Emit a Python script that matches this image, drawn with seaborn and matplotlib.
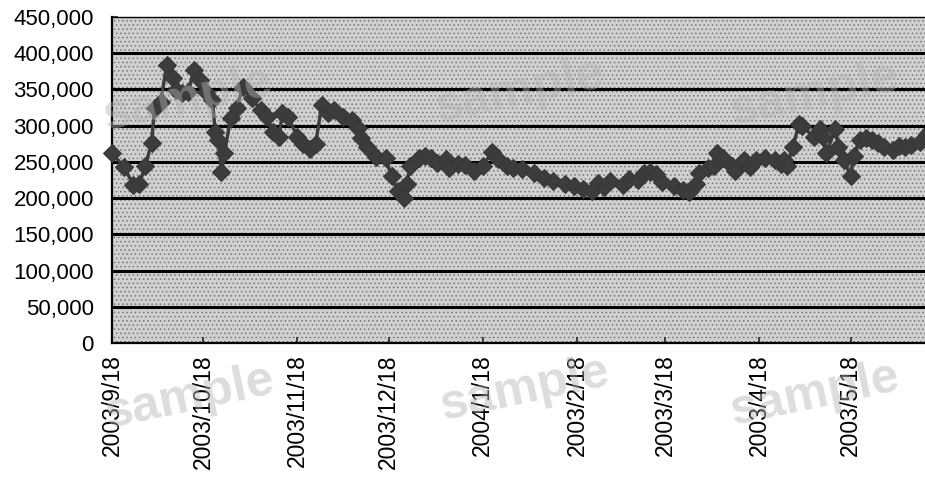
import numpy as np
import pandas as pd
import matplotlib
matplotlib.use("Agg")
import matplotlib.pyplot as plt
import seaborn as sns

# ---- data ----
start_date = "2003-09-18"
day_offsets = [0, 4, 7, 9, 11, 13, 14, 16, 18, 20, 21, 23, 25, 27, 29, 31, 33, 34, 35, 36,
               37, 39, 41, 43, 46, 49, 51, 53, 55, 56, 58, 61, 63, 65, 67, 69, 71, 73, 76, 79,
               81, 82, 84, 87, 90, 92, 94, 96, 97, 98, 101, 103, 105, 107, 110, 111, 114, 116, 119, 122,
               125, 127, 130, 132, 135, 139, 142, 145, 149, 152, 155, 158, 160, 162, 164, 168, 170, 173, 175, 177,
               179, 181, 185, 188, 190, 192, 193, 196, 198, 199, 201, 204, 205, 208, 210, 212, 215, 218, 220, 221,
               222, 224, 226, 227, 231, 233, 234, 235, 238, 239, 241, 243, 244, 246, 248, 250, 252, 254, 257, 259,
               261, 263, 266, 268]
values = [262, 243, 218, 220, 245, 276, 324, 332, 384, 366, 349, 345, 346, 377, 363, 346, 335, 291, 280, 236,
          262, 310, 324, 353, 338, 321, 312, 291, 284, 317, 312, 284, 275, 268, 275, 328, 317, 322, 312, 308,
          297, 283, 270, 257, 255, 230, 210, 200, 220, 244, 255, 258, 255, 248, 254, 241, 247, 246, 238, 245,
          263, 254, 244, 242, 240, 234, 228, 224, 220, 217, 212, 210, 221, 216, 223, 218, 226, 225, 234, 236,
          233, 222, 217, 211, 208, 220, 234, 241, 244, 262, 255, 244, 237, 252, 243, 253, 255, 253, 247, 252,
          244, 270, 302, 299, 285, 296, 284, 262, 296, 270, 252, 230, 258, 280, 283, 280, 276, 270, 267, 272,
          270, 274, 278, 288]
values = [v * 1000 for v in values]

tick_dates = ["2003-09-18", "2003-10-18", "2003-11-18", "2003-12-18", "2004-01-18",
              "2004-02-18", "2004-03-18", "2004-04-18", "2004-05-18"]
tick_labels = ["2003/9/18", "2003/10/18", "2003/11/18", "2003/12/18", "2004/1/18",
               "2003/2/18", "2003/3/18", "2003/4/18", "2003/5/18"]
y_ticks = list(range(0, 450001, 50000))

df = pd.DataFrame({
    "date": pd.to_datetime(start_date) + pd.to_timedelta(day_offsets, unit="D"),
    "value": values,
})

sns.set_theme(style="white")
plt.rcParams["font.family"] = ["Liberation Sans", "DejaVu Sans"]
plt.rcParams["hatch.linewidth"] = 0.6

fig = plt.figure(figsize=(9.25, 4.78), dpi=100)
ax = fig.add_axes([112 / 925, 1 - 343 / 478, 1 - 112 / 925, (343 - 17) / 478])

# stippled grey background
ax.set_facecolor("#d0d0d0")
ax.patch.set_hatch("....")
ax.patch.set_edgecolor("#777777")
ax.patch.set_linewidth(0)

sns.lineplot(data=df, x="date", y="value", ax=ax, color="#3c3c3c", linewidth=2.5,
             marker="D", markersize=9, markeredgecolor="#383838", markerfacecolor="#3c3c3c",
             zorder=4, clip_on=False)

ax.set_ylim(0, 450000)
ax.set_xlim(pd.Timestamp(start_date), pd.Timestamp(start_date) + pd.Timedelta(days=267.5))
ax.set_yticks(y_ticks)
ax.set_yticklabels([f"{v:,}" for v in y_ticks], fontsize=16, color="black")
ax.set_xticks(pd.to_datetime(tick_dates))
ax.set_xticklabels(tick_labels, rotation=90, fontsize=16.5, color="black", va="top", ha="center")
ax.set_xlabel("")
ax.set_ylabel("")

for y in y_ticks[1:-1]:
    ax.axhline(y, color="black", linewidth=2.2, zorder=2)

for side in ["left", "bottom", "top"]:
    ax.spines[side].set_visible(True)
    ax.spines[side].set_color("black")
ax.spines["left"].set_linewidth(1.6)
ax.spines["bottom"].set_linewidth(1.6)
ax.spines["top"].set_linewidth(1.0)
ax.spines["right"].set_visible(False)

ax.tick_params(axis="y", direction="in", length=4, width=1.2, pad=13, left=True)
ax.tick_params(axis="x", direction="in", length=4, width=1.2, pad=8, bottom=True)

# watermark text as in the reference
for (cx, cy) in [(188, 100), (520, 92), (815, 95), (190, 398), (525, 390), (815, 395)]:
    fig.text(cx / 925, 1 - cy / 478, "sample", fontsize=36, fontweight="bold",
             color="#b4b4b4", alpha=0.45, rotation=12, ha="center", va="center", zorder=10)

fig.savefig("out.png", dpi=100)
